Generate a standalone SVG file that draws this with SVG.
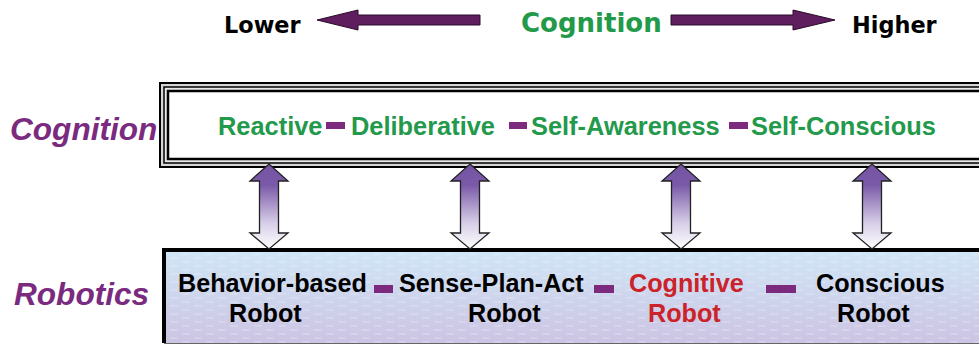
<svg xmlns="http://www.w3.org/2000/svg" width="979" height="345" viewBox="0 0 979 345">
  <style>
    .top { font-family: "DejaVu Sans", Verdana, sans-serif; font-weight: bold; }
    .lbl { font-family: "Liberation Sans", Arial, sans-serif; font-weight: bold; font-style: italic; font-size: 31.6px; fill: #7a2b80; }
    .cog { font-family: "Liberation Sans", Arial, sans-serif; font-weight: bold; font-size: 25.4px; fill: #23994b; }
    .rob { font-family: "Liberation Sans", Arial, sans-serif; font-weight: bold; font-size: 25.2px; fill: #000; }
    .red { fill: #cc2229; }
    .dash { fill: #7b2a7d; }
    .harrow { fill: #5f1f5f; stroke: #2a0a2a; stroke-width: 1; }
    .varrow { fill: url(#vgrad); stroke: #222; stroke-width: 1.3; stroke-linejoin: miter; }
  </style>
  <defs>
    <linearGradient id="vgrad" x1="0" y1="0" x2="0" y2="1">
      <stop offset="0" stop-color="#7453a3"/>
      <stop offset="0.25" stop-color="#7a5aa8"/>
      <stop offset="0.7" stop-color="#d8cfe8"/>
      <stop offset="1" stop-color="#ffffff"/>
    </linearGradient>
    <linearGradient id="bgrad" x1="0" y1="0" x2="0" y2="1">
      <stop offset="0" stop-color="#d0e6f6"/>
      <stop offset="1" stop-color="#ccc4e3"/>
    </linearGradient>
    <pattern id="tex" width="24" height="8" patternUnits="userSpaceOnUse">
      <line x1="2" y1="2" x2="10" y2="2" stroke="#ffffff" stroke-opacity="0.35" stroke-width="1"/>
      <line x1="14" y1="6" x2="22" y2="6" stroke="#ffffff" stroke-opacity="0.35" stroke-width="1"/>
    </pattern>
  </defs>

  <!-- top scale -->
  <g id="scale">
    <text class="top" x="224" y="33" font-size="22.4" fill="#000">Lower</text>
    <text class="top" x="521" y="32" font-size="26" fill="#229a4a">Cognition</text>
    <text class="top" x="852" y="33" font-size="22.4" fill="#000">Higher</text>
    <polygon class="harrow" points="317,20 358,10 358,15 480,15 480,25 358,25 358,30"/>
    <polygon class="harrow" points="835,20 793,10 793,15 671,15 671,25 793,25 793,30"/>
  </g>

  <!-- side labels -->
  <g id="label-cognition"><text class="lbl" x="10" y="140">Cognition</text></g>
  <g id="label-robotics"><text class="lbl" x="14" y="305">Robotics</text></g>

  <!-- cognition box -->
  <g id="cognition-box">
    <rect x="160" y="83" width="830" height="84" fill="#d6d6d6" stroke="#000" stroke-width="2"/>
    <rect x="164" y="87" width="830" height="76" fill="#e8e8e8" stroke="#000" stroke-width="1.5"/>
    <rect x="168" y="91" width="830" height="68" fill="#fff" stroke="#000" stroke-width="2.5"/>
    <text class="cog" x="218" y="135">Reactive</text>
    <rect class="dash" x="326" y="122" width="19" height="7"/>
    <text class="cog" x="351" y="135">Deliberative</text>
    <rect class="dash" x="509" y="122" width="18" height="7"/>
    <text class="cog" x="531" y="135">Self-Awareness</text>
    <rect class="dash" x="729" y="122" width="19" height="7"/>
    <text class="cog" x="751" y="135">Self-Conscious</text>
  </g>

  <!-- robotics box -->
  <g id="robotics-box">
    <rect x="164" y="250" width="830" height="93" fill="url(#bgrad)"/>
    <rect x="164" y="250" width="830" height="93" fill="url(#tex)"/>
    <path d="M164,343 V250 H990" fill="none" stroke="#000" stroke-width="4"/>
    <line x1="164" y1="343.5" x2="990" y2="343.5" stroke="#666" stroke-width="1"/>
    <text class="rob" x="178" y="292">Behavior-based</text>
    <text class="rob" x="229" y="322">Robot</text>
    <rect class="dash" x="374" y="285" width="19" height="8"/>
    <text class="rob" x="399" y="292">Sense-Plan-Act</text>
    <text class="rob" x="468" y="322">Robot</text>
    <rect class="dash" x="594" y="285" width="20" height="8"/>
    <text class="rob red" x="629" y="292">Cognitive</text>
    <text class="rob red" x="648" y="322">Robot</text>
    <rect class="dash" x="766" y="285" width="30" height="8"/>
    <text class="rob" x="816" y="292">Conscious</text>
    <text class="rob" x="837" y="322">Robot</text>
  </g>

  <!-- connectors -->
  <g id="connectors">
    <polygon class="varrow" transform="translate(269,0)" points="0,164 19,181 9.5,181 9.5,233 19,233 0,249 -19,233 -9.5,233 -9.5,181 -19,181"/>
    <polygon class="varrow" transform="translate(470,0)" points="0,164 19,181 9.5,181 9.5,233 19,233 0,249 -19,233 -9.5,233 -9.5,181 -19,181"/>
    <polygon class="varrow" transform="translate(681,0)" points="0,164 19,181 9.5,181 9.5,233 19,233 0,249 -19,233 -9.5,233 -9.5,181 -19,181"/>
    <polygon class="varrow" transform="translate(872,0)" points="0,164 19,181 9.5,181 9.5,233 19,233 0,249 -19,233 -9.5,233 -9.5,181 -19,181"/>
  </g>
</svg>
